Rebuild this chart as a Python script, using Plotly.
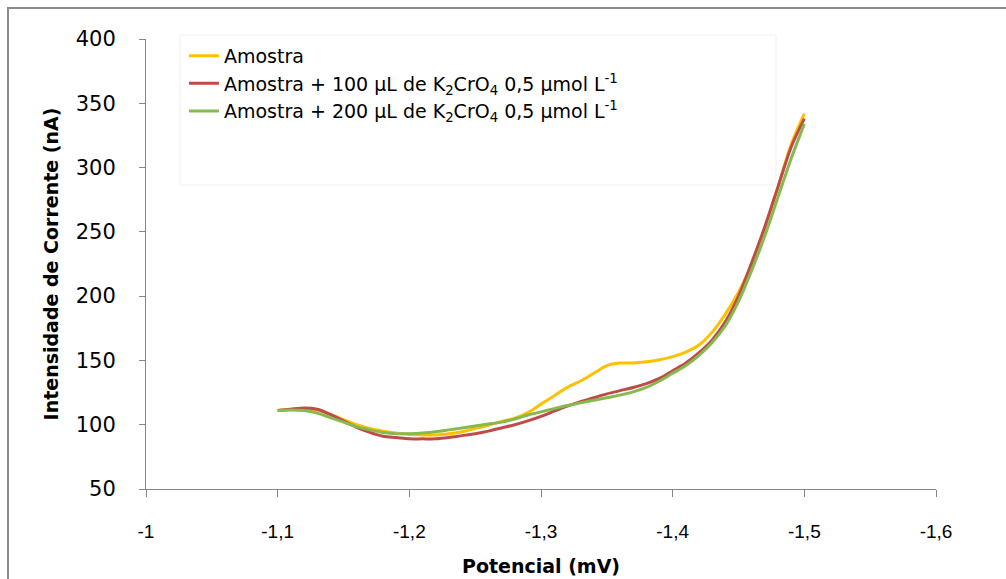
import plotly.graph_objects as go

potencial = [-1.10, -1.11, -1.12, -1.13, -1.14, -1.15, -1.16, -1.17, -1.18, -1.19,
             -1.20, -1.21, -1.22, -1.23, -1.24, -1.25, -1.26, -1.27, -1.28, -1.29,
             -1.30, -1.31, -1.32, -1.33, -1.34, -1.35, -1.36, -1.37, -1.38, -1.39,
             -1.40, -1.41, -1.42, -1.43, -1.44, -1.45, -1.46, -1.47, -1.48, -1.49, -1.50]

amostra = [111, 112, 112, 111, 108, 104, 100, 97, 95, 93.5,
           92.5, 92, 92, 93, 94.5, 97, 99.5, 102.5, 105, 109.5,
           116, 122.5, 129, 134, 140, 146, 148, 148, 149, 150.5,
           153, 156.5, 162, 172, 186, 203, 225, 253, 285, 318, 342]

amostra_100 = [111, 112, 113, 112, 108, 103, 98, 94, 91, 90,
               89, 89, 89, 90, 91.5, 93, 95, 97.5, 100, 103,
               106.5, 110.5, 114.5, 118, 121, 124, 126.5, 129, 132, 136,
               142, 148, 156, 166, 180, 200, 226, 254, 285, 316, 338]

amostra_200 = [111, 111.5, 111, 109, 105.5, 102, 98.5, 96, 94, 93,
               93, 93.5, 94.5, 96, 97.5, 99, 100.5, 102, 104.5, 107.5,
               110, 112.5, 115, 117, 119, 121, 123, 125.5, 129, 134,
               140, 146, 154, 164, 177, 196, 220, 247, 277, 307, 334]

series_names = [
    "Amostra",
    "Amostra + 100 µL de K<sub>2</sub>CrO<sub>4</sub> 0,5 µmol L<sup>-1</sup>",
    "Amostra + 200 µL de K<sub>2</sub>CrO<sub>4</sub> 0,5 µmol L<sup>-1</sup>",
]
series_colors = ["#FFC000", "#BE4B48", "#86B94F"]

x_tickvals = [-1.0, -1.1, -1.2, -1.3, -1.4, -1.5, -1.6]
x_ticktext = ["-1", "-1,1", "-1,2", "-1,3", "-1,4", "-1,5", "-1,6"]
y_tickvals = [50, 100, 150, 200, 250, 300, 350, 400]

fig = go.Figure()
for name, ys, col in zip(series_names, [amostra, amostra_100, amostra_200], series_colors):
    fig.add_trace(go.Scatter(x=potencial, y=ys, mode="lines", name=name,
                             line=dict(color=col, width=3, shape="spline", smoothing=0.8)))

W, H = 1006, 579
L, R, T, B = 146, 70, 39, 90
pw, ph = W - L - R, H - T - B

def px2paper(px, py):
    return (px - L) / pw, (H - B - py) / ph

# outer frame
fx0, fy0 = px2paper(8, 8)
fx1, fy1 = px2paper(1100, 700)
# legend frame
lx0, ly0 = px2paper(180, 35)
lx1, ly1 = px2paper(776, 185)

fig.update_layout(
    width=W, height=H,
    margin=dict(l=L, r=R, t=T, b=B),
    paper_bgcolor="white", plot_bgcolor="white",
    font=dict(family="DejaVu Sans, Liberation Sans, Arial, sans-serif", color="#000000"),
    showlegend=True,
    legend=dict(x=lx0 + 0.005, y=ly0 - 0.004, xanchor="left", yanchor="top",
                bgcolor="rgba(0,0,0,0)", font=dict(size=19, color="#000000"),
                itemwidth=30, tracegroupgap=0),
    shapes=[
        dict(type="rect", xref="paper", yref="paper", x0=fx0, y0=fy1, x1=fx1, y1=fy0,
             line=dict(color="#8C8C8C", width=2), fillcolor="rgba(0,0,0,0)", layer="below"),
        dict(type="rect", xref="paper", yref="paper", x0=lx0, y0=ly1, x1=lx1, y1=ly0,
             line=dict(color="#F0F0F0", width=1), fillcolor="rgba(0,0,0,0)", layer="below"),
    ],
    xaxis=dict(
        range=[-1.0, -1.6], tickvals=x_tickvals, ticktext=x_ticktext, automargin=False,
        showgrid=False, zeroline=False, showline=True, linecolor="#868686", linewidth=1,
        ticks="outside", ticklen=7, tickcolor="#868686", ticklabelstandoff=18,
        tickfont=dict(size=19, family="Liberation Sans Narrow, Liberation Sans, Arial"),
        title=dict(text="<b>Potencial (mV)</b>", font=dict(size=19), standoff=18),
    ),
    yaxis=dict(
        range=[50, 400], tickvals=y_tickvals, automargin=False,
        showgrid=False, zeroline=False, showline=True, linecolor="#868686", linewidth=1,
        ticks="outside", ticklen=6, tickcolor="#868686", ticklabelstandoff=19,
        tickfont=dict(size=21),
        title=dict(text="<b>Intensidade de Corrente (nA)</b>", font=dict(size=19), standoff=12),
    ),
)

fig.write_html("out.html")
